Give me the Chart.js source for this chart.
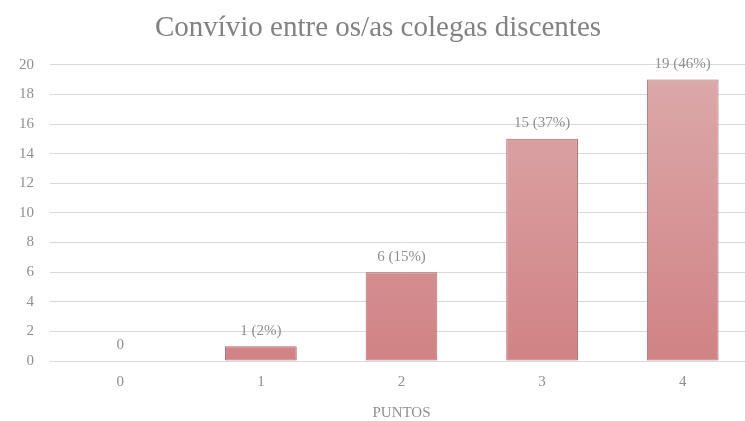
<!DOCTYPE html>
<html>
<head>
<meta charset="utf-8">
<script src="https://cdn.jsdelivr.net/npm/chart.js@4"></script>
<style>
  html, body { margin: 0; padding: 0; background: #fff; overflow: hidden; }
  #wrap { width: 745px; height: 421px; overflow: hidden; }
</style>
</head>
<body>
<div id="wrap"><canvas id="grafico" width="753" height="421"></canvas></div>
<script>
const categorias = ["0", "1", "2", "3", "4"];
const respostas = [0, 1, 6, 15, 19];
const rotulos = ["0", "1 (2%)", "6 (15%)", "15 (37%)", "19 (46%)"];
const ticksY = [0, 2, 4, 6, 8, 10, 12, 14, 16, 18, 20];

// gradiente das barras (mais claro em cima)
function corBarra(ctx) {
  const area = ctx.chart.chartArea;
  if (!area) return "#d59597";
  const g = ctx.chart.ctx.createLinearGradient(0, area.top, 0, area.bottom);
  g.addColorStop(0, "#dcaaab");
  g.addColorStop(1, "#d18284");
  return g;
}

// escreve os valores por cima das barras
const rotuloPlugin = {
  id: "rotulos",
  afterDatasetsDraw(chart) {
    const c = chart.ctx;
    const meta = chart.getDatasetMeta(0);
    c.save();
    c.fillStyle = "#8f8f8f";
    c.font = "15px 'Liberation Serif'";
    c.textAlign = "center";
    c.textBaseline = "bottom";
    meta.data.forEach((bar, i) => {
      c.fillText(rotulos[i], bar.x, bar.y - 8);
    });
    c.restore();
  }
};

new Chart(document.getElementById("grafico"), {
  type: "bar",
  data: {
    labels: categorias,
    datasets: [{
      data: respostas,
      backgroundColor: corBarra,
      borderColor: "#a8696b",
      borderWidth: 1,
      borderSkipped: false,
      categoryPercentage: 1,
      barPercentage: 0.51
    }]
  },
  options: {
    responsive: false,
    animation: false,
    layout: { padding: { left: 3, right: 0, top: 0, bottom: -1 } },
    plugins: {
      legend: { display: false },
      tooltip: { enabled: false },
      title: {
        display: true,
        text: "Convívio entre os/as colegas discentes",
        color: "#828282",
        font: { family: "'Liberation Serif'", size: 29, weight: "normal" },
        padding: { top: 11, bottom: 19 }
      }
    },
    scales: {
      x: {
        grid: { display: false },
        border: { color: "#d9d9d9" },
        ticks: { color: "#8f8f8f", font: { family: "'Liberation Serif'", size: 15 }, padding: 4 },
        title: {
          display: true,
          text: "PUNTOS",
          color: "#8f8f8f",
          font: { family: "'Liberation Serif'", size: 15 },
          padding: { top: 9, bottom: 0 }
        }
      },
      y: {
        min: 0,
        max: 20,
        afterBuildTicks: axis => { axis.ticks = ticksY.map(v => ({ value: v })); },
        grid: { color: "#d9d9d9", drawTicks: false },
        border: { display: false },
        ticks: { color: "#8f8f8f", font: { family: "'Liberation Serif'", size: 15 }, padding: 16 }
      }
    }
  },
  plugins: [rotuloPlugin]
});
</script>
</body>
</html>
